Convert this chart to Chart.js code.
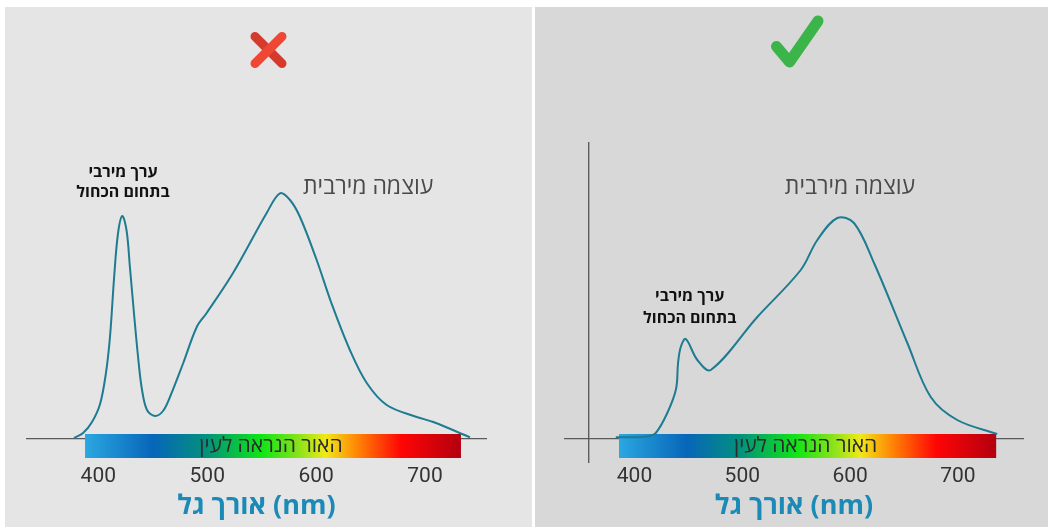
<!DOCTYPE html>
<html><head><meta charset="utf-8">
<script src="https://cdn.jsdelivr.net/npm/chart.js@4"></script>
<style>
html,body{margin:0;padding:0;background:#fff;width:1048px;height:527px;overflow:hidden}
#p1{position:absolute;left:5px;top:7px;width:527px;height:520px;background:#e5e5e5}
#p2{position:absolute;left:535px;top:7px;width:513px;height:520px;background:#d9d8d8}
canvas{display:block}
</style></head><body>
<div id="p1"><canvas id="c1" width="527" height="520"></canvas></div>
<div id="p2"><canvas id="c2" width="513" height="520"></canvas></div>
<script>
// ---- data ----
const TICKS = [400, 500, 600, 700];
const AXIS_TITLE = 'אורך גל (nm)';
const BAR_LABEL = 'האור הנראה לעין';
const PEAK_LABEL = ['ערך מירבי', 'בתחום הכחול'];
const MAX_LABEL = 'עוצמה מירבית';

// left panel (wrong spectrum)
const WL_LEFT = [377.7, 386, 394.2, 401.6, 407, 410.7, 414.4, 418, 422, 426, 429, 432.8, 436.5, 440, 444.7, 452, 459.4, 465.8, 478, 490.4, 499.5, 523.7, 554.6, 566.8, 576, 585.2, 600.5, 614, 631, 646.5, 664.8, 692.4, 707.6, 741.3];
const I_LEFT  = [1, 6, 17, 35, 66, 102, 160, 205, 223, 208, 172, 125, 82, 50, 29, 23, 28, 42, 76, 112, 126, 166, 226, 245.7, 239, 222, 179, 136, 89, 56, 34, 22, 17, 1.7];
const X_RANGE_LEFT = [334.5, 756];
const BAR_LEFT = [387.8, 733];

// right panel (good spectrum)
const WL_RIGHT = [382.6, 400, 412, 419.7, 430.4, 438.5, 440.4, 442.9, 447.5, 458.3, 470.7, 513.9, 554.2, 569.6, 588.1, 603.6, 622.2, 653.1, 674.8, 699.4, 736.5];
const I_RIGHT  = [1.7, 1.7, 2.5, 6, 26, 50, 76, 92, 100, 79, 69, 122, 169, 199, 221, 216, 176, 96, 42, 19, 5];
const X_RANGE_RIGHT = [335.5, 760.4];
const BAR_RIGHT = [385.6, 735.5];
const Y_AXIS_RIGHT = 357.5;

const Y_MAX = 297;

// ---- styling ----
const HEB = "'Open Sans', 'DejaVu Sans', sans-serif";
const GRAD = [[0, '#2ba7e1'], [0.18, '#0766b9'], [0.32, '#03907e'], [0.47, '#10e516'], [0.56, '#7fe21a'], [0.64, '#f0e81a'], [0.72, '#ff8a05'], [0.84, '#ff0505'], [1, '#b3000f']];

function decoPlugin(opts) {
  return {
    id: 'deco',
    beforeDatasetsDraw(chart) {
      const ctx = chart.ctx, xs = chart.scales.x;
      const ca = chart.chartArea;
      ctx.save();
      if (opts.yAxisAt !== undefined) {
        const px = xs.getPixelForValue(opts.yAxisAt);
        ctx.strokeStyle = '#555';
        ctx.lineWidth = 1.3;
        ctx.beginPath(); ctx.moveTo(px, ca.top); ctx.lineTo(px, ca.bottom + 24); ctx.stroke();
      }
      const x0 = xs.getPixelForValue(opts.bar[0]), x1 = xs.getPixelForValue(opts.bar[1]);
      const yTop = ca.bottom - 5, h = 24;
      const g = ctx.createLinearGradient(x0, 0, x1, 0);
      GRAD.forEach(s => g.addColorStop(s[0], s[1]));
      ctx.fillStyle = g;
      ctx.fillRect(x0, yTop, x1 - x0, h);
      ctx.fillStyle = '#2b2b2b';
      ctx.font = '21px ' + HEB;
      ctx.textAlign = 'center'; ctx.textBaseline = 'middle';
      ctx.fillText(BAR_LABEL, (x0 + x1) / 2 - 2, yTop + h / 2);
      ctx.restore();
    },
    afterDraw(chart) {
      const ctx = chart.ctx, xs = chart.scales.x, ys = chart.scales.y;
      ctx.save();
      ctx.textAlign = 'center'; ctx.textBaseline = 'middle';
      ctx.fillStyle = '#111';
      ctx.font = 'bold 16px ' + HEB;
      ctx.fillText(PEAK_LABEL[0], xs.getPixelForValue(opts.peakAt[0]), ys.getPixelForValue(opts.peakAt[1]));
      ctx.fillText(PEAK_LABEL[1], xs.getPixelForValue(opts.peakAt[0]), ys.getPixelForValue(opts.peakAt[2]));
      ctx.fillStyle = '#4a4a4a';
      ctx.font = '23px ' + HEB;
      ctx.fillText(MAX_LABEL, xs.getPixelForValue(opts.maxAt[0]), ys.getPixelForValue(opts.maxAt[1]));
      ctx.lineCap = 'round'; ctx.lineJoin = 'round';
      if (opts.icon === 'x') {
        const cx = 263.5, cy = 43, r = 13.5;
        ctx.lineWidth = 9;
        ctx.strokeStyle = '#d63a2d';
        ctx.beginPath(); ctx.moveTo(cx - r, cy - r); ctx.lineTo(cx + r, cy + r); ctx.stroke();
        ctx.strokeStyle = '#ef4733';
        ctx.beginPath(); ctx.moveTo(cx + r, cy - r); ctx.lineTo(cx - r, cy + r); ctx.stroke();
      } else {
        ctx.lineWidth = 11;
        ctx.strokeStyle = '#3bb54a';
        ctx.beginPath(); ctx.moveTo(241.5, 39.5); ctx.lineTo(254.5, 55); ctx.lineTo(283, 14); ctx.stroke();
      }
      ctx.restore();
    }
  };
}

function makeChart(id, wl, inten, xr, pad, deco) {
  return new Chart(document.getElementById(id), {
    type: 'line',
    data: {
      datasets: [{
        data: wl.map((w, i) => ({ x: w, y: inten[i] })),
        borderColor: '#1e7b90',
        borderWidth: 2,
        pointRadius: 0,
        fill: false,
        tension: 0.35
      }]
    },
    options: {
      responsive: false,
      animation: false,
      events: [],
      layout: { padding: pad },
      plugins: { legend: { display: false }, tooltip: { enabled: false } },
      scales: {
        x: {
          type: 'linear', min: xr[0], max: xr[1],
          afterBuildTicks: s => { s.ticks = TICKS.map(v => ({ value: v })); },
          afterFit: s => { s.height = 88; },
          grid: { display: false, drawTicks: false },
          border: { display: true, color: '#5a5a5a', width: 1.3 },
          ticks: { padding: 25, color: '#333', font: { family: 'Roboto', size: 21 }, maxRotation: 0, autoSkip: false },
          title: { display: true, text: AXIS_TITLE, color: '#1b8ab6', font: { family: HEB, size: 27, weight: 'bold' }, padding: { top: 0, bottom: 4 } }
        },
        y: { display: false, min: 0, max: Y_MAX }
      }
    },
    plugins: [decoPlugin(deco)]
  });
}

makeChart('c1', WL_LEFT, I_LEFT, X_RANGE_LEFT, { left: 22, right: 46, top: 135, bottom: 0 },
  { bar: BAR_LEFT, icon: 'x', peakAt: [422.7, 267, 247], maxAt: [647.8, 252] });
makeChart('c2', WL_RIGHT, I_RIGHT, X_RANGE_RIGHT, { left: 30, right: 25, top: 135, bottom: 0 },
  { bar: BAR_RIGHT, icon: 'check', peakAt: [451.2, 142.3, 120.7], maxAt: [599.9, 252], yAxisAt: Y_AXIS_RIGHT });
</script>
</body></html>
